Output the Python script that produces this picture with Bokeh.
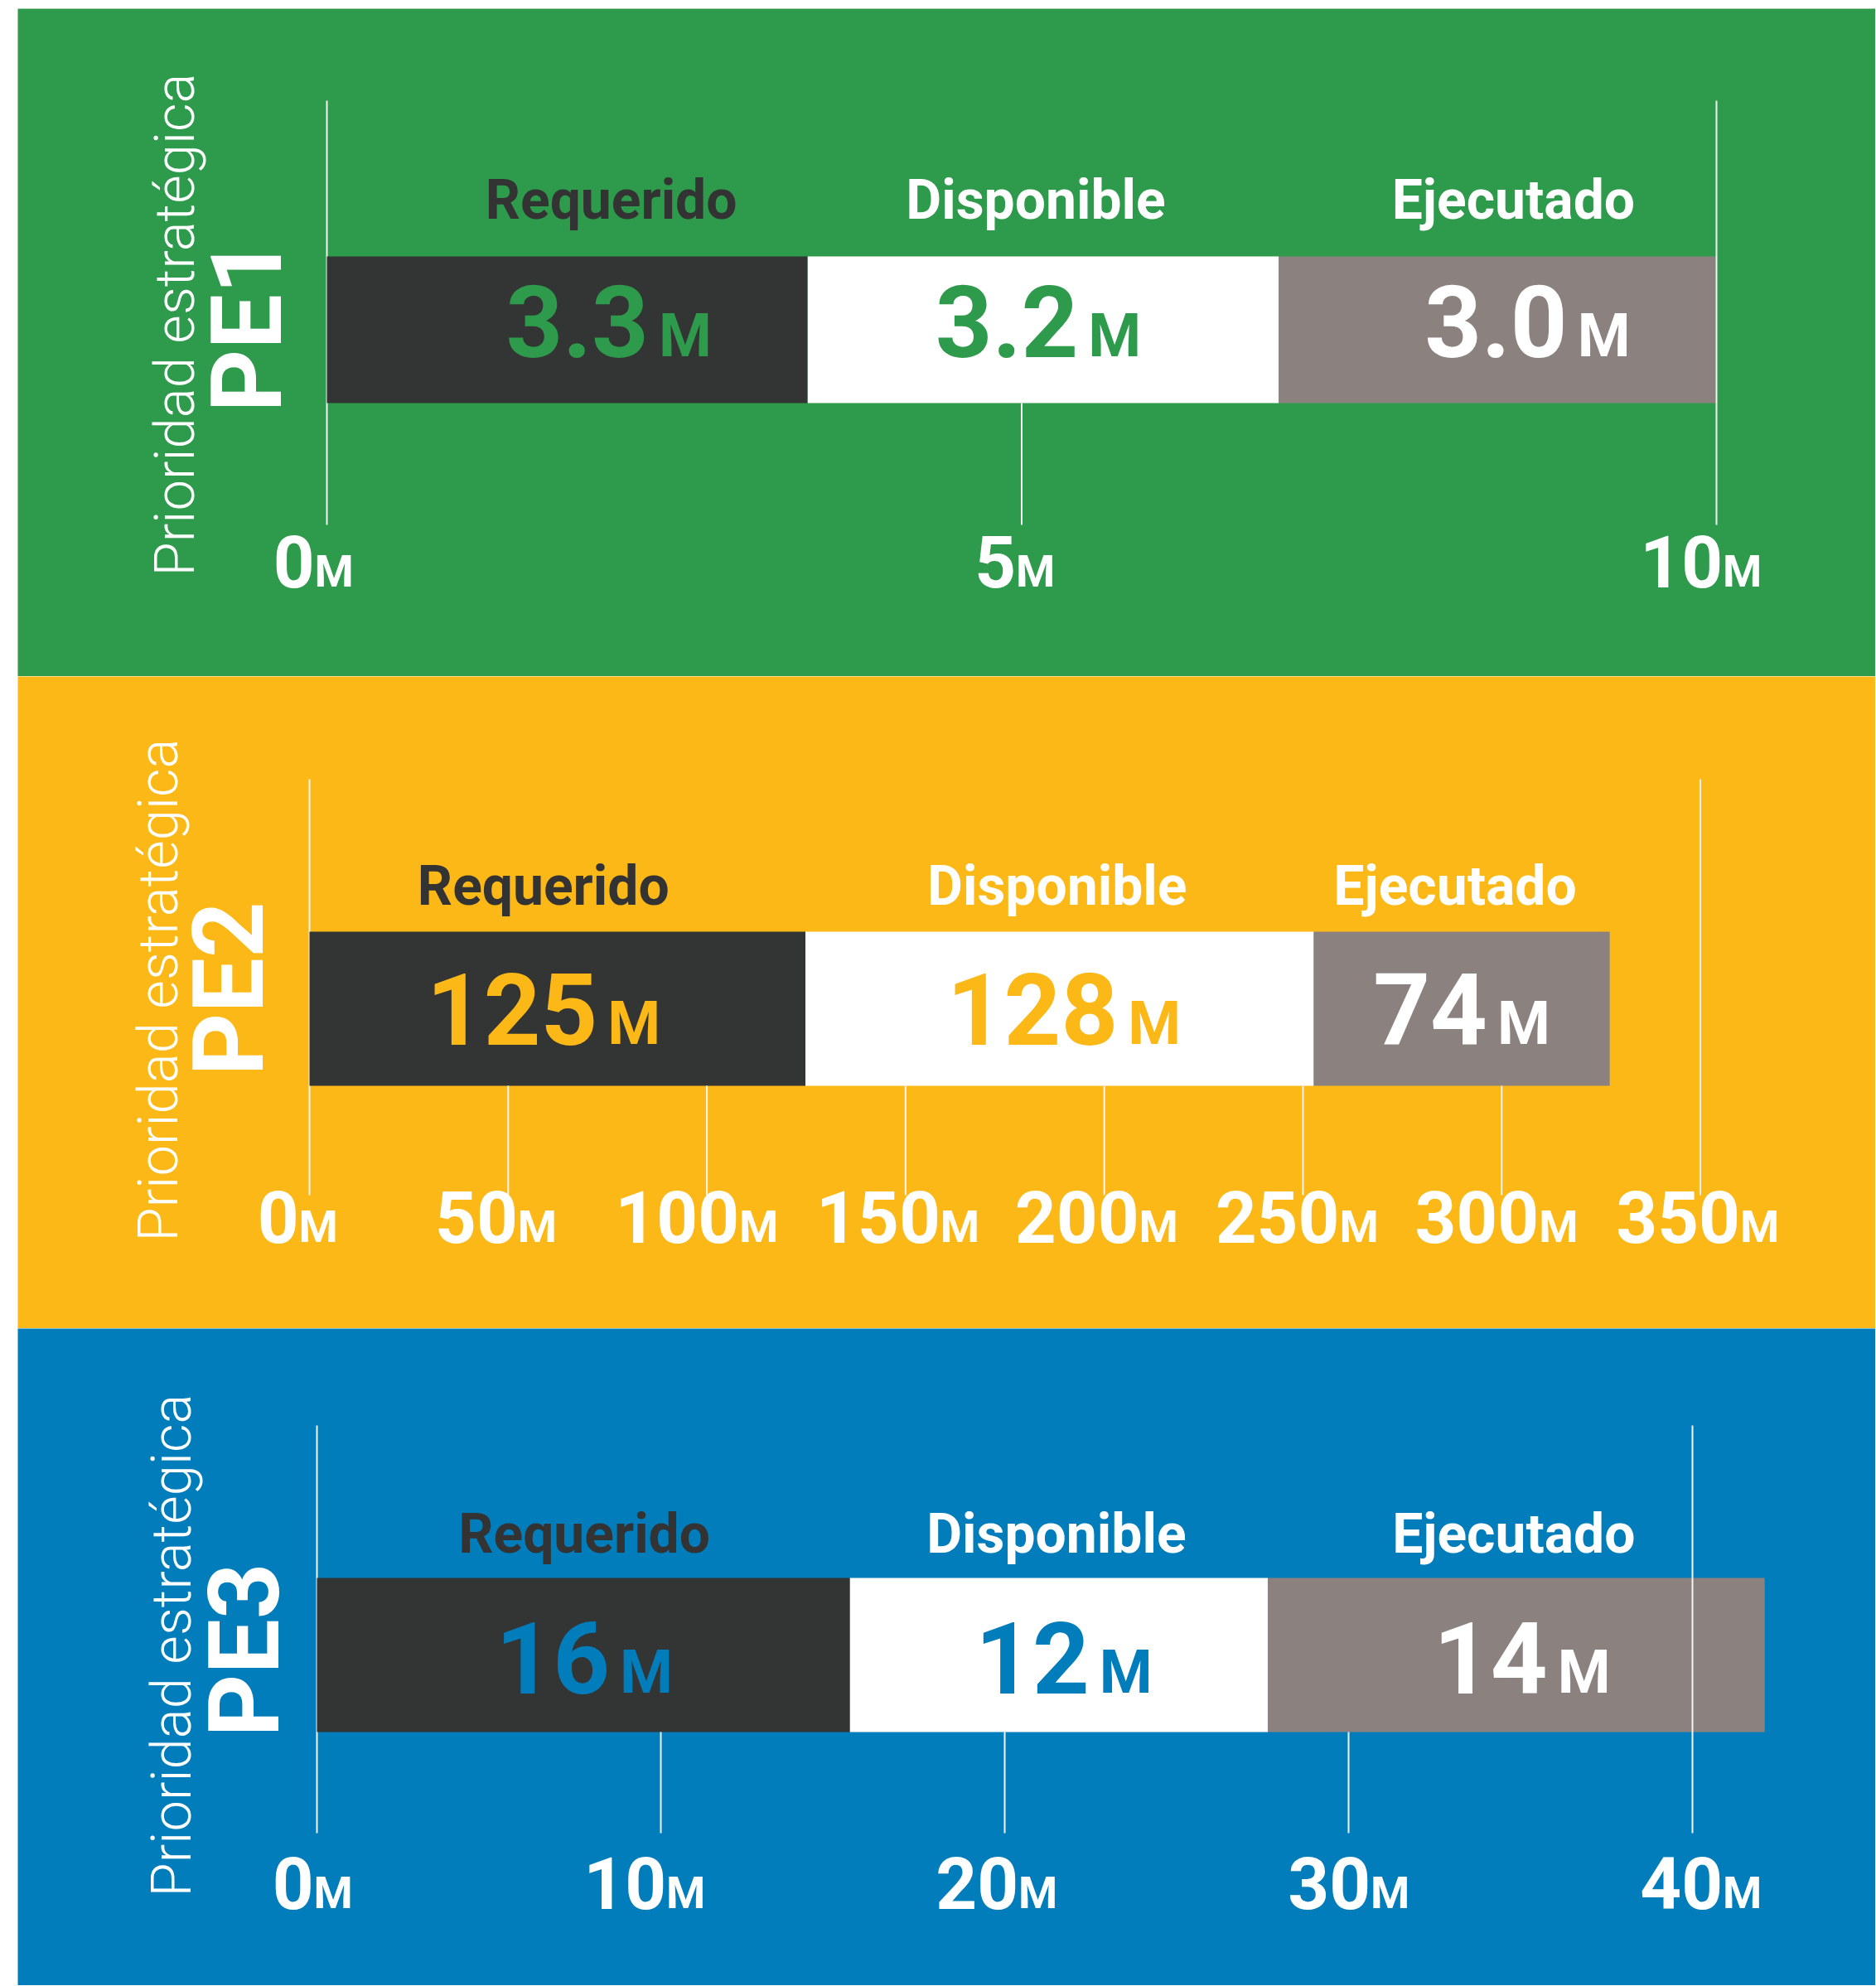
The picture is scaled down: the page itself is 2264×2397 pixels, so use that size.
import numpy as np
from bokeh.plotting import figure
from bokeh.models import ColumnDataSource, Range1d, Spacer
from bokeh.layouts import column, row
from bokeh.core.properties import value
from bokeh.embed import file_html
from bokeh.resources import INLINE

# ---------------- data ----------------
categories = ["Requerido", "Disponible", "Ejecutado"]
pe_names = ["PE1", "PE2", "PE3"]
side_title = "Prioridad estratégica"
unit = "M"

# bar segment lengths as drawn (millions)
pe1_segments = [3.46, 3.39, 3.15]
pe2_segments = [124.8, 127.9, 74.5]
pe3_segments = [15.5, 12.15, 14.45]

# value labels shown in the bars
pe1_labels = ["3.3", "3.2", "3.0"]
pe2_labels = ["125", "128", "74"]
pe3_labels = ["16", "12", "14"]

# axis ticks (millions)
pe1_ticks = [0, 5, 10]
pe2_ticks = [0, 50, 100, 150, 200, 250, 300, 350]
pe3_ticks = [0, 10, 20, 30, 40]

# ---------------- style / layout ----------------
LEFT_PAD, TOP_PAD = 21, 10
FIG_W = 2242
DARK = "#333534"
GREY = "#8B827F"
BAR_COLORS = [DARK, "#FFFFFF", GREY]
CAT_COLORS = ["#333333", "#FFFFFF", "#FFFFFF"]
FONT = value("Roboto")
FONT_LIGHT = value("'Roboto Light', Roboto")
BASE_FIX = 0.37  # em shift to put the alphabetic baseline where wanted

panels = [
    dict(name=pe_names[0], seg=pe1_segments, lab=pe1_labels, ticks=pe1_ticks, bg="#2E9A4B", H=806,
         x0=373, x1=2050, grid=(111, 623), bar=(299, 476), cat_base=255, val_base=422, tick_base=699,
         prio=(214, 685), pe=(321, 487), cat_dx=[53, -9, 19], val_dx=[52, -4, 38],
         tick_dx=[-16, -8, -18]),
    dict(name=pe_names[1], seg=pe2_segments, lab=pe2_labels, ticks=pe2_ticks, bg="#FBB817", H=787,
         x0=352, x1=2030.5, grid=(124, 626), bar=(308, 494), cat_base=277, val_base=446, tick_base=684,
         prio=(194, 682), pe=(299, 482), cat_dx=[-17, -3, -8], val_dx=[-15, 7, 1],
         tick_dx=[-14, -14, -11, -8, -8, -6, -5, -2]),
    dict(name=pe_names[2], seg=pe3_segments, lab=pe3_labels, ticks=pe3_ticks, bg="#027DBB", H=793,
         x0=361, x1=2021, grid=(117, 609), bar=(301, 487), cat_base=272, val_base=442, tick_base=701,
         prio=(210, 686), pe=(318, 493), cat_dx=[1, -3, -3], val_dx=[2, 7, 8],
         tick_dx=[-5, -19, -9, 1, 11]),
]

CAT_SIZE = 66
VAL_SIZE, VAL_M_SIZE, VAL_GAP = 120, 73, 12
TICK_SIZE, TICK_M_SIZE = 87, 54
PRIO_SIZE, PE_SIZE = 67, 118


def adv(s, size):
    return sum(0.274 if ch == "." else 0.5615 for ch in s) * size


M_ADV = 0.863


def build(cfg):
    W, H = FIG_W, cfg["H"]
    ticks = cfg["ticks"]
    ppu = (cfg["x1"] - cfg["x0"]) / ticks[-1]
    xr = Range1d(-cfg["x0"] / ppu, (W - cfg["x0"]) / ppu)
    yr = Range1d(0, H)
    bg = cfg["bg"]
    p = figure(width=W, height=H, x_range=xr, y_range=yr, output_backend="svg",
               toolbar_location=None, x_axis_location=None, y_axis_location=None,
               min_border=0, outline_line_color=None,
               background_fill_color=bg, border_fill_color=bg)
    p.grid.visible = False

    def Y(rel, size=0):
        # baseline position (rel from panel top) -> data y, with font baseline fix
        return H - rel + BASE_FIX * size

    def X(px, size=0):
        return (px - BASE_FIX * size - cfg["x0"]) / ppu

    gtop, gbot = cfg["grid"]
    btop, bbot = cfg["bar"]
    line_kw = dict(line_color="#F4F4F4", line_width=2)

    # first gridline (behind bars)
    p.segment(x0=[ticks[0]], y0=[Y(gtop)], x1=[ticks[0]], y1=[Y(gbot)], **line_kw)

    seg = np.array(cfg["seg"], dtype=float)
    right = np.cumsum(seg)
    left = right - seg
    mid = (left + right) / 2
    src = ColumnDataSource(dict(left=left, right=right, color=BAR_COLORS))
    p.hbar(y=Y((btop + bbot) / 2), height=bbot - btop, left="left", right="right",
           fill_color="color", line_color=None, source=src)

    # last gridline (over bars) and inner gridlines (below bar)
    p.segment(x0=[ticks[-1]], y0=[Y(gtop)], x1=[ticks[-1]], y1=[Y(gbot)], **line_kw)
    inner = ticks[1:-1]
    if inner:
        p.segment(x0=inner, y0=[Y(bbot)] * len(inner), x1=inner, y1=[Y(gbot)] * len(inner),
                  **line_kw)

    # category labels
    cat_src = ColumnDataSource(dict(x=mid, y=[Y(cfg["cat_base"], CAT_SIZE)] * 3, text=categories,
                                    dx=cfg["cat_dx"], color=CAT_COLORS))
    p.text(x="x", y="y", text="text", x_offset="dx", text_color="color", source=cat_src,
           text_font=FONT, text_font_style="bold", text_font_size=f"{CAT_SIZE}px",
           text_align="center", text_baseline="alphabetic")

    # value labels
    val_colors = [bg, bg, "#FFFFFF"]
    anchors = []
    for s, dx in zip(cfg["lab"], cfg["val_dx"]):
        wn = adv(s, VAL_SIZE)
        wm = M_ADV * VAL_M_SIZE
        anchors.append(dx + (wn - VAL_GAP - wm) / 2)
    vsrc = ColumnDataSource(dict(x=mid, y=[Y(cfg["val_base"], VAL_SIZE)] * 3,
                                 ym=[Y(cfg["val_base"], VAL_M_SIZE)] * 3, text=cfg["lab"],
                                 m=[unit] * 3, dx=anchors, mdx=[a + VAL_GAP for a in anchors],
                                 color=val_colors))
    p.text(x="x", y="y", text="text", x_offset="dx", text_color="color", source=vsrc,
           text_font=FONT, text_font_style="bold", text_font_size=f"{VAL_SIZE}px",
           text_align="right", text_baseline="alphabetic")
    p.text(x="x", y="ym", text="m", x_offset="mdx", text_color="color", source=vsrc,
           text_font=FONT, text_font_style="bold", text_font_size=f"{VAL_M_SIZE}px",
           text_align="left", text_baseline="alphabetic")

    # tick labels
    tlabels = [str(t) for t in ticks]
    n = len(ticks)
    tdx = [d + (adv(s, TICK_SIZE) - M_ADV * TICK_M_SIZE) / 2
           for s, d in zip(tlabels, cfg["tick_dx"])]
    tsrc = ColumnDataSource(dict(x=ticks, y=[Y(cfg["tick_base"], TICK_SIZE)] * n,
                                 ym=[Y(cfg["tick_base"], TICK_M_SIZE)] * n, text=tlabels,
                                 m=[unit] * n, dx=tdx))
    p.text(x="x", y="y", text="text", x_offset="dx", source=tsrc, text_color="#FFFFFF",
           text_font=FONT, text_font_style="bold", text_font_size=f"{TICK_SIZE}px",
           text_align="right", text_baseline="alphabetic")
    p.text(x="x", y="ym", text="m", x_offset="dx", source=tsrc, text_color="#FFFFFF",
           text_font=FONT, text_font_style="bold", text_font_size=f"{TICK_M_SIZE}px",
           text_align="left", text_baseline="alphabetic")

    # vertical titles
    px, py = cfg["prio"]
    p.text(x=[X(px, PRIO_SIZE)], y=[Y(py)], text=[side_title], angle=np.pi / 2,
           text_color="#FFFFFF", text_font=FONT_LIGHT, text_font_size=f"{PRIO_SIZE}px",
           text_align="left", text_baseline="alphabetic")
    ex, ey = cfg["pe"]
    p.text(x=[X(ex, PE_SIZE)], y=[Y(ey)], text=[cfg["name"]], angle=np.pi / 2,
           text_color="#FFFFFF", text_font=FONT, text_font_style="bold",
           text_font_size=f"{PE_SIZE}px", text_align="left", text_baseline="alphabetic")
    return p


figs = [build(c) for c in panels]
total_h = TOP_PAD + sum(c["H"] for c in panels)
layout = row(Spacer(width=LEFT_PAD, height=total_h),
             column(Spacer(width=FIG_W, height=TOP_PAD), *figs))

open("out.html", "w").write(file_html(layout, INLINE))
